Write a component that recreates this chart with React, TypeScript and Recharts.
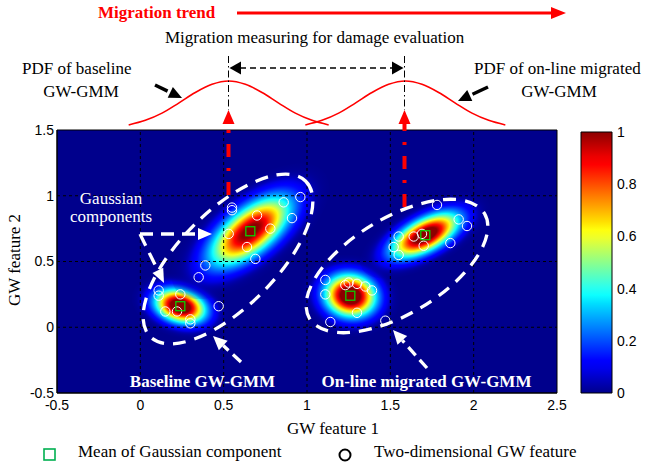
import React from 'react';
import {
  ScatterChart, Scatter, XAxis, YAxis, CartesianGrid, ReferenceLine, ReferenceArea,
  LineChart, Line, BarChart, Bar,
} from 'recharts';

const W = 648;
const H = 468;
const SERIF = "'Liberation Serif', 'Times New Roman', serif";
const SANS = "'Liberation Sans', Arial, Helvetica, sans-serif";

// plot box of the feature map (px)
const PLOT_LEFT = 57;
const PLOT_TOP = 130;
const PLOT_W = 500;
const PLOT_H = 263;
const Y_AXIS_W = 40;
const X_AXIS_H = 20;

const xDomain = [-0.5, 2.5];
const yDomain = [-0.5, 1.5];
const xTicks = [-0.5, 0, 0.5, 1, 1.5, 2, 2.5];
const yTicks = [-0.5, 0, 0.5, 1, 1.5];
const gridX = [0, 0.5, 1, 1.5, 2];
const gridY = [0, 0.5, 1];
const cbTicks = [0, 0.2, 0.4, 0.6, 0.8, 1];

const KX = PLOT_W / (xDomain[1] - xDomain[0]);
const KY = PLOT_H / (yDomain[1] - yDomain[0]);

// baseline GW features
const baseX = [0.55, 0.55, 0.70, 0.86, 0.96, 0.91, 0.53, 0.78, 0.64, 0.69, 0.39, 0.35, 0.11, 0.11, 0.24, 0.15, 0.22, 0.30, 0.30, 0.47];
const baseY = [0.91, 0.89, 0.85, 0.95, 0.99, 0.83, 0.71, 0.75, 0.61, 0.52, 0.47, 0.38, 0.28, 0.24, 0.25, 0.12, 0.12, 0.06, 0.03, 0.16];
// on-line (migrated) GW features
const onX = [1.78, 1.91, 1.96, 1.55, 1.64, 1.69, 1.70, 1.52, 1.55, 1.86, 1.11, 1.11, 1.23, 1.25, 1.30, 1.35, 1.39, 1.30, 1.14, 1.47];
const onY = [0.93, 0.82, 0.77, 0.69, 0.69, 0.71, 0.62, 0.61, 0.55, 0.64, 0.36, 0.25, 0.32, 0.34, 0.33, 0.31, 0.28, 0.11, 0.04, 0.05];

// Gaussian components (baseline lower/upper, on-line lower/upper)
const compMeanX = [0.24, 0.66, 1.26, 1.71];
const compMeanY = [0.16, 0.73, 0.24, 0.70];
const compSdX = [0.097, 0.158, 0.099, 0.13];
const compSdY = [0.083, 0.172, 0.104, 0.11];
const compRho = [-0.24, 0.64, -0.07, 0.61];
const compPeak = [1.2, 1.05, 1.2, 1.15];

// schematic PDFs drawn above the map
const pdfCenters = [0.53, 1.59];
const pdfOffsets = [-0.6, -0.5, -0.4, -0.3, -0.2, -0.1, 0, 0.1, 0.2, 0.3, 0.4, 0.5, 0.6];
const pdfHeights = [0.085, 0.18, 0.33, 0.54, 0.76, 0.93, 1, 0.93, 0.76, 0.54, 0.33, 0.18, 0.085];

const clamp = (v: number) => Math.max(0, Math.min(1, v));
const jet = (v: number) => {
  const r = clamp(1.55 - Math.abs(4 * v - 3));
  const g = clamp(1.5 - Math.abs(4 * v - 2));
  const b = clamp(1.55 - Math.abs(4 * v - 1));
  return `rgb(${Math.round(r * 255)},${Math.round(g * 255)},${Math.round(b * 255)})`;
};

const compData = compMeanX.map((x, i) => ({ x, y: compMeanY[i], i }));
const pointData = [
  ...baseX.map((x, i) => ({ x, y: baseY[i] })),
  ...onX.map((x, i) => ({ x, y: onY[i] })),
];

// density blob of one component, as a gradient-filled ellipse
const Blob = (props: any) => {
  const { cx, cy, payload } = props;
  const i = payload.i;
  const sx = compSdX[i] * KX;
  const sy = compSdY[i] * KY;
  const a = sx * sx;
  const c = sy * sy;
  const b = -compRho[i] * sx * sy; // screen y points down
  const mid = (a + c) / 2;
  const d = Math.sqrt(((a - c) / 2) ** 2 + b * b);
  const ang = (0.5 * Math.atan2(2 * b, a - c) * 180) / Math.PI;
  const R = 3;
  const id = `blob${i}`;
  const stops = [];
  for (let k = 0; k <= 40; k++) {
    const t = k / 40;
    const r = R * t;
    const v = Math.min(1, compPeak[i] * Math.exp((-r * r) / 2));
    stops.push(<stop key={k} offset={t} stopColor={jet(v)} stopOpacity={clamp(v / 0.08)} />);
  }
  return (
    <g>
      <defs>
        <radialGradient id={id} cx="50%" cy="50%" r="50%">{stops}</radialGradient>
      </defs>
      <ellipse
        cx={cx}
        cy={cy}
        rx={R * Math.sqrt(mid + d)}
        ry={R * Math.sqrt(mid - d)}
        transform={`rotate(${ang} ${cx} ${cy})`}
        fill={`url(#${id})`}
      />
    </g>
  );
};

const Ring = (props: any) => (
  <circle cx={props.cx} cy={props.cy} r={4.7} fill="none" stroke="#fff" strokeWidth={1} />
);

const MeanBox = (props: any) => (
  <rect x={props.cx - 4.5} y={props.cy - 4.5} width={9} height={9} fill="none" stroke="#00dd00" strokeWidth={1.2} />
);

const Arrow = ({ x1, y1, x2, y2, color, width, dash, head, headW, gap = 0 }: any) => {
  const dx = x2 - x1;
  const dy = y2 - y1;
  const len = Math.hypot(dx, dy);
  const ux = dx / len;
  const uy = dy / len;
  const bx = x2 - ux * head;
  const by = y2 - uy * head;
  const px = -uy * headW;
  const py = ux * headW;
  return (
    <g>
      <line x1={x1} y1={y1} x2={bx - ux * gap} y2={by - uy * gap} stroke={color} strokeWidth={width} strokeDasharray={dash} />
      <polygon points={`${x2},${y2} ${bx + px},${by + py} ${bx - px},${by - py}`} fill={color} />
    </g>
  );
};

const layer: React.CSSProperties = { position: 'absolute', left: 0, top: 0 };
const tickStyle = { fill: '#000', fontSize: 14, fontFamily: SANS };
const serifText = { fontFamily: SERIF, fontSize: 17 };

export default function App() {
  const cbStops = [];
  for (let k = 0; k <= 32; k++) {
    const t = k / 32;
    cbStops.push(<stop key={k} offset={t} stopColor={jet(1 - t)} />);
  }

  return (
    <div style={{ position: 'absolute', left: 0, top: 0, width: W, height: H, background: '#fff', overflow: 'hidden' }}>
      <div style={layer}>
        <ScatterChart
          width={W}
          height={H}
          margin={{
            top: PLOT_TOP,
            right: W - PLOT_LEFT - PLOT_W,
            bottom: H - PLOT_TOP - PLOT_H - X_AXIS_H,
            left: PLOT_LEFT - Y_AXIS_W,
          }}
        >
          <CartesianGrid horizontal={false} vertical={false} fill={jet(0)} fillOpacity={1} />
          <XAxis
            type="number"
            dataKey="x"
            domain={xDomain}
            ticks={xTicks}
            interval={0}
            allowDataOverflow
            height={X_AXIS_H}
            tickLine={false}
            tickSize={0}
            tickMargin={7}
            axisLine={{ stroke: '#000' }}
            tick={tickStyle}
          />
          <YAxis
            type="number"
            dataKey="y"
            domain={yDomain}
            ticks={yTicks}
            interval={0}
            allowDataOverflow
            width={Y_AXIS_W}
            tickLine={false}
            tickSize={0}
            tickMargin={3}
            axisLine={{ stroke: '#000' }}
            tick={tickStyle}
          />
          <Scatter data={compData} shape={Blob} isAnimationActive={false} zIndex={550} />
          {gridX.map((v) => (
            <ReferenceLine key={'gx' + v} x={v} stroke="#000" strokeWidth={1} strokeDasharray="3 3" zIndex={650} />
          ))}
          {gridY.map((v) => (
            <ReferenceLine key={'gy' + v} y={v} stroke="#000" strokeWidth={1} strokeDasharray="3 3" zIndex={650} />
          ))}
          <Scatter data={pointData} shape={Ring} isAnimationActive={false} zIndex={700} />
          <Scatter data={compData} shape={MeanBox} isAnimationActive={false} zIndex={710} />
          <ReferenceArea x1={xDomain[0]} x2={xDomain[1]} y1={yDomain[0]} y2={yDomain[1]} fill="none" fillOpacity={0} stroke="#000" strokeWidth={1} zIndex={720} />
        </ScatterChart>
      </div>

      {/* schematic PDFs */}
      <div style={layer}>
        <LineChart width={W} height={H} margin={{ top: 81, right: W - PLOT_LEFT - PLOT_W, bottom: H - 129, left: PLOT_LEFT }}>
          <XAxis type="number" dataKey="x" domain={xDomain} allowDataOverflow hide />
          <YAxis type="number" domain={[0, 1]} hide />
          {pdfCenters.map((c, k) => (
            <Line
              key={k}
              data={pdfOffsets.map((o, j) => ({ x: c + o, y: pdfHeights[j] }))}
              dataKey="y"
              type="monotone"
              stroke="#ff0000"
              strokeWidth={1.6}
              dot={false}
              isAnimationActive={false}
            />
          ))}
        </LineChart>
      </div>

      {/* colorbar */}
      <div style={layer}>
        <BarChart width={W} height={H} data={[{ name: 'cb', v: 1 }]} margin={{ top: 132, right: 0, bottom: 75, left: 581 }} barCategoryGap={0}>
          <defs>
            <linearGradient id="jetbar" x1="0" y1="0" x2="0" y2="1">{cbStops}</linearGradient>
          </defs>
          <XAxis dataKey="name" hide />
          <YAxis
            orientation="right"
            type="number"
            domain={[0, 1]}
            ticks={cbTicks}
            interval={0}
            width={36}
            tickLine={false}
            tickSize={0}
            tickMargin={5}
            axisLine={false}
            tick={tickStyle}
          />
          <Bar dataKey="v" fill="url(#jetbar)" stroke="#000" strokeWidth={1} isAnimationActive={false} />
        </BarChart>
      </div>

      {/* annotations */}
      <svg width={W} height={H} style={{ ...layer, pointerEvents: 'none' }}>
        <text x={98} y={17.5} fill="#ff0000" fontWeight="bold" {...serifText}>Migration trend</text>
        <Arrow x1={237} y1={13} x2={566} y2={13} color="#ff0000" width={3} head={15} headW={6} />
        <text x={165} y={42.5} fill="#000" {...serifText}>Migration measuring for damage evaluation</text>

        <text x={22} y={74} fill="#000" {...serifText}>PDF of baseline</text>
        <text x={81} y={97} fill="#000" textAnchor="middle" {...serifText}>GW-GMM</text>
        <text x={474} y={74} fill="#000" {...serifText}>PDF of on-line migrated</text>
        <text x={559} y={97} fill="#000" textAnchor="middle" {...serifText}>GW-GMM</text>
        <Arrow x1={155} y1={85} x2={182} y2={98} color="#000" width={3.5} head={13} headW={6} gap={3} />
        <Arrow x1={488} y1={87} x2={458} y2={101} color="#000" width={3.5} head={13} headW={6} gap={3} />

        <line x1={228.5} y1={56} x2={228.5} y2={110} stroke="#000" strokeWidth={1} strokeDasharray="7 3 1.5 3" />
        <line x1={404.5} y1={56} x2={404.5} y2={110} stroke="#000" strokeWidth={1} strokeDasharray="7 3 1.5 3" />
        <line x1={240} y1={68} x2={393} y2={68} stroke="#000" strokeWidth={1.5} strokeDasharray="6 4" />
        <polygon points="229.5,68 241,61.5 241,74.5" fill="#000" />
        <polygon points="403.5,68 392,61.5 392,74.5" fill="#000" />

        <Arrow x1={228.5} y1={195} x2={228.5} y2={110} color="#ff0000" width={4} dash="13 11 3 11" head={14} headW={6} />
        <Arrow x1={404.5} y1={207} x2={404.5} y2={110} color="#ff0000" width={4} dash="13 11 3 11" head={14} headW={6} />

        <ellipse cx={228} cy={259} rx={110} ry={48} transform="rotate(-45 228 259)" fill="none" stroke="#fff" strokeWidth={3.3} strokeDasharray="13 9" />
        <ellipse cx={397} cy={266} rx={102} ry={48} transform="rotate(-31 397 266)" fill="none" stroke="#fff" strokeWidth={3.3} strokeDasharray="13 9" />

        <text x={111} y={204} fill="#fff" textAnchor="middle" {...serifText}>Gaussian</text>
        <text x={111} y={222} fill="#fff" textAnchor="middle" {...serifText}>components</text>
        <Arrow x1={140} y1={234} x2={212} y2={234} color="#fff" width={3.3} dash="13 8" head={14} headW={6} />
        <Arrow x1={140} y1={234} x2={164} y2={283} color="#fff" width={3.3} dash="13 8" head={14} headW={6} />
        <Arrow x1={241} y1={362} x2={213} y2={336} color="#fff" width={3.3} dash="11 6" head={14} headW={6.5} />
        <Arrow x1={427} y1={368} x2={393} y2={330} color="#fff" width={3.3} dash="11 6" head={14} headW={6.5} />
        <text x={202.5} y={386.5} fill="#fff" fontWeight="bold" textAnchor="middle" {...serifText}>Baseline GW-GMM</text>
        <text x={426.5} y={386.5} fill="#fff" fontWeight="bold" textAnchor="middle" {...serifText}>On-line migrated GW-GMM</text>

        <text x={333} y={434} fill="#000" textAnchor="middle" {...serifText}>GW feature 1</text>
        <text x={0} y={0} fill="#000" textAnchor="middle" transform="translate(20 260) rotate(-90)" {...serifText}>GW feature 2</text>

        <rect x={44} y={449} width={11} height={11} fill="none" stroke="#00b050" strokeWidth={1.6} />
        <text x={78} y={457} fill="#000" {...serifText}>Mean of Gaussian component</text>
        <circle cx={345} cy={455} r={5.5} fill="none" stroke="#000" strokeWidth={2} />
        <text x={374} y={457} fill="#000" {...serifText}>Two-dimensional GW feature</text>
      </svg>
    </div>
  );
}
